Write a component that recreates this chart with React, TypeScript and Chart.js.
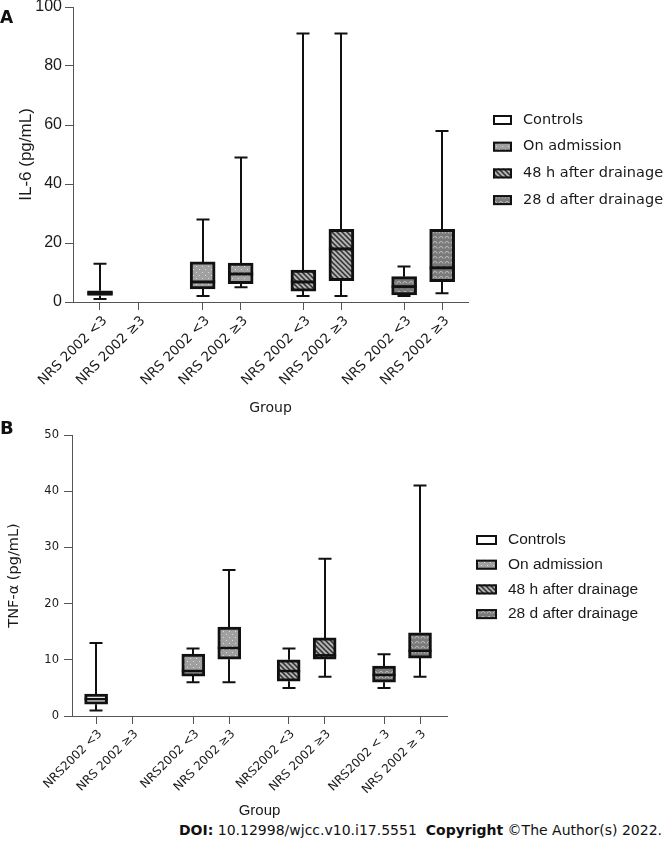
import React, { useEffect, useRef } from 'react';
import { Chart, registerables } from 'chart.js';
Chart.register(...registerables);

// slot positions along the group axis (pairs with gaps)
const slotPositions = [0, 1, 2.7, 3.7, 5.35, 6.35, 8, 9];
const seriesNames = ['Controls', 'On admission', '48 h after drainage', '28 d after drainage'];
const seriesSlots = [[0], [2, 3], [4, 5], [6, 7]];

const il6TickLabels = [
  'NRS 2002 <3', 'NRS 2002 ≥3', 'NRS 2002 <3', 'NRS 2002 ≥3',
  'NRS 2002 <3', 'NRS 2002 ≥3', 'NRS 2002 <3', 'NRS 2002 ≥3',
];
const tnfTickLabels = [
  'NRS2002 <3', 'NRS 2002 ≥3', 'NRS2002 <3', 'NRS 2002 ≥3',
  'NRS2002 <3', 'NRS 2002 ≥3', 'NRS2002 < 3', 'NRS 2002 ≥ 3',
];

// [min, q1, median, q3, max]
const il6Controls = [[1, 2.2, 3, 3.8, 13]];
const il6OnAdmission = [[2, 4.4, 6.8, 13.6, 28], [5, 6.2, 9.5, 13.2, 49]];
const il6After48h = [[2, 3.7, 6.8, 10.8, 91], [2, 7.2, 18, 24.6, 91]];
const il6After28d = [[2, 2.4, 5.2, 8.6, 12], [3, 6.9, 11.6, 24.6, 58]];

const tnfControls = [[1, 2.1, 3, 3.9, 13]];
const tnfOnAdmission = [[6, 7.1, 8, 11, 12], [6, 10.1, 12.1, 15.8, 26]];
const tnfAfter48h = [[5, 6.2, 8, 10, 12], [7, 10.1, 10.8, 13.9, 28]];
const tnfAfter28d = [[5, 6, 7.3, 8.9, 11], [7, 10.3, 11.6, 14.8, 41]];

const il6Series = [il6Controls, il6OnAdmission, il6After48h, il6After28d];
const tnfSeries = [tnfControls, tnfOnAdmission, tnfAfter48h, tnfAfter28d];

const TAHOMA = "'DejaVu Sans', sans-serif";
const ARIAL = "'Liberation Sans', Arial, sans-serif";

function makePatterns(ctx: CanvasRenderingContext2D) {
  const mk = (w: number, h: number, draw: (g: CanvasRenderingContext2D) => void) => {
    const c = document.createElement('canvas');
    c.width = w;
    c.height = h;
    const g = c.getContext('2d') as CanvasRenderingContext2D;
    draw(g);
    return ctx.createPattern(c, 'repeat') as CanvasPattern;
  };
  const dots = mk(6, 6, (g) => {
    g.fillStyle = '#a0a0a0';
    g.fillRect(0, 0, 6, 6);
    g.fillStyle = '#dadada';
    g.fillRect(1, 1, 1, 1);
    g.fillRect(4, 4, 1, 1);
  });
  const hatch = mk(5, 5, (g) => {
    g.fillStyle = '#b2b2b2';
    g.fillRect(0, 0, 5, 5);
    g.strokeStyle = '#2e2e2e';
    g.lineWidth = 1.5;
    g.beginPath();
    g.moveTo(-1, -1); g.lineTo(6, 6);
    g.moveTo(-1, 4); g.lineTo(1, 6);
    g.moveTo(4, -1); g.lineTo(6, 1);
    g.stroke();
  });
  const waves = mk(6, 5, (g) => {
    g.fillStyle = '#7a7a7a';
    g.fillRect(0, 0, 6, 5);
    g.strokeStyle = '#bdbdbd';
    g.lineWidth = 1;
    g.beginPath();
    g.arc(3, 3.5, 2, Math.PI, 0);
    g.stroke();
  });
  return ['#ffffff', dots, hatch, waves];
}

const boxParts = {
  id: 'boxParts',
  beforeDatasetsDraw(chart: any, _a: any, opts: any) {
    const { ctx, scales } = chart;
    ctx.save();
    ctx.strokeStyle = '#111';
    ctx.lineWidth = opts.whiskerWidth;
    chart.data.datasets.forEach((ds: any) => {
      ds.data.forEach((pt: any) => {
        const px = Math.round(scales.x.getPixelForValue(pt.x));
        const s = pt.s;
        const yMin = scales.y.getPixelForValue(s[0]);
        const yQ1 = scales.y.getPixelForValue(s[1]);
        const yQ3 = scales.y.getPixelForValue(s[3]);
        const yMax = scales.y.getPixelForValue(s[4]);
        const cw = opts.capWidth / 2;
        ctx.beginPath();
        ctx.moveTo(px, yQ3); ctx.lineTo(px, yMax);
        ctx.moveTo(px - cw, yMax); ctx.lineTo(px + cw, yMax);
        ctx.moveTo(px, yQ1); ctx.lineTo(px, yMin);
        ctx.moveTo(px - cw, yMin); ctx.lineTo(px + cw, yMin);
        ctx.stroke();
      });
    });
    ctx.restore();
  },
  afterDatasetsDraw(chart: any, _a: any, opts: any) {
    const { ctx, scales } = chart;
    ctx.save();
    ctx.strokeStyle = '#111';
    ctx.lineWidth = opts.medianWidth;
    chart.data.datasets.forEach((ds: any) => {
      ds.data.forEach((pt: any) => {
        const px = scales.x.getPixelForValue(pt.x);
        const ym = scales.y.getPixelForValue(pt.s[2]);
        const hw = opts.boxWidth / 2;
        ctx.beginPath();
        ctx.moveTo(px - hw, ym); ctx.lineTo(px + hw, ym);
        ctx.stroke();
      });
    });
    ctx.restore();
  },
  afterDraw(chart: any, _a: any, opts: any) {
    const L = opts.legend;
    const { ctx } = chart;
    ctx.save();
    chart.data.datasets.forEach((ds: any, i: number) => {
      const cy = L.y + i * L.dy;
      ctx.fillStyle = ds.backgroundColor;
      ctx.fillRect(L.x, cy - L.h / 2, L.w, L.h);
      ctx.strokeStyle = '#111';
      ctx.lineWidth = 2;
      ctx.strokeRect(L.x + 1, cy - L.h / 2 + 1, L.w - 2, L.h - 2);
      ctx.fillStyle = '#1a1a1a';
      ctx.font = L.font;
      ctx.textBaseline = 'middle';
      ctx.textAlign = 'left';
      ctx.fillText(ds.label, L.textX, cy);
    });
    ctx.restore();
  },
};

function buildConfig(ctx: CanvasRenderingContext2D, p: any) {
  const fills = makePatterns(ctx);
  const datasets = p.series.map((stats: number[][], si: number) => ({
    label: seriesNames[si],
    data: stats.map((s, k) => ({ x: slotPositions[seriesSlots[si][k]], y: [s[1], s[3]], s })),
    backgroundColor: fills[si],
    borderColor: '#111',
    borderWidth: 3,
    borderSkipped: false,
    barThickness: p.boxWidth,
    grouped: false,
  }));
  return {
    type: 'bar',
    data: { datasets },
    plugins: [boxParts],
    options: {
      responsive: false,
      animation: false,
      layout: { padding: p.padding },
      plugins: {
        legend: { display: false },
        tooltip: { enabled: false },
        boxParts: {
          whiskerWidth: 2,
          capWidth: p.capWidth,
          medianWidth: p.medianWidth,
          boxWidth: p.boxWidth,
          legend: p.legend,
        },
      },
      scales: {
        x: {
          type: 'linear',
          min: p.xMin,
          max: p.xMax,
          offset: false,
          afterBuildTicks: (s: any) => {
            s.ticks = slotPositions.map((v) => ({ value: v }));
          },
          afterFit: (s: any) => {
            s.height = p.xHeight;
          },
          ticks: {
            autoSkip: false,
            minRotation: 45,
            maxRotation: 45,
            padding: p.xTickPad,
            labelOffset: p.xLabelOffset,
            color: '#1a1a1a',
            font: p.xTickFont,
            callback: (_v: any, i: number) => p.tickLabels[i],
          },
          grid: { display: true, drawOnChartArea: false, offset: false, tickLength: 8, color: '#555', lineWidth: 1 },
          border: { display: true, color: '#555', width: 1 },
          title: { display: true, text: 'Group', color: '#1a1a1a', font: p.xTitleFont, padding: { top: 0, bottom: p.xTitlePad } },
        },
        y: {
          min: 0,
          max: p.yMax,
          afterFit: (s: any) => {
            s.width = p.yWidth;
          },
          ticks: { stepSize: p.yStep, padding: p.yTickPad, color: '#1a1a1a', font: p.yTickFont },
          grid: { display: true, drawOnChartArea: false, tickLength: 8, color: '#555', lineWidth: 1 },
          border: { display: true, color: '#555', width: 1 },
          title: { display: true, text: p.yTitle, color: '#1a1a1a', font: p.yTitleFont, padding: { top: p.yTitlePad, bottom: 0 } },
        },
      },
    },
  };
}

function BoxChart(props: { top: number; height: number; params: any }) {
  const ref = useRef<HTMLCanvasElement>(null);
  useEffect(() => {
    const canvas = ref.current as HTMLCanvasElement;
    const ctx = canvas.getContext('2d') as CanvasRenderingContext2D;
    const chart = new Chart(ctx, buildConfig(ctx, props.params) as any);
    return () => chart.destroy();
  }, []);
  return (
    <canvas
      ref={ref}
      width={668}
      height={props.height}
      style={{ position: 'absolute', left: 0, top: props.top, width: 668, height: props.height }}
    />
  );
}

const il6Params = {
  series: il6Series,
  tickLabels: il6TickLabels,
  padding: { left: 0, right: 200, top: 27, bottom: 0 },
  xMin: -0.71,
  xMax: 9.68,
  xHeight: 118,
  yWidth: 73,
  yMax: 100,
  yStep: 20,
  boxWidth: 25,
  capWidth: 13,
  medianWidth: 3,
  xTickPad: 3,
  xLabelOffset: 5,
  yTickPad: 3,
  xTickFont: { family: TAHOMA, size: 13.5 },
  yTickFont: { family: ARIAL, size: 16 },
  xTitleFont: { family: TAHOMA, size: 14 },
  xTitlePad: 3,
  yTitle: 'IL-6 (pg/mL)',
  yTitleFont: { family: ARIAL, size: 17 },
  yTitlePad: 16,
  legend: { x: 493, y: 140, dy: 26.7, w: 19, h: 10, textX: 523, font: `14.5px ${TAHOMA}` },
};

const tnfParams = {
  series: tnfSeries,
  tickLabels: tnfTickLabels,
  padding: { left: 0, right: 221, top: 15, bottom: 0 },
  xMin: -0.67,
  xMax: 9.75,
  xHeight: 104,
  yWidth: 72,
  yMax: 50,
  yStep: 10,
  boxWidth: 23,
  capWidth: 13,
  medianWidth: 2.5,
  xTickPad: 3,
  xLabelOffset: 4,
  yTickPad: 5,
  xTickFont: { family: TAHOMA, size: 12 },
  yTickFont: { family: TAHOMA, size: 11.5 },
  xTitleFont: { family: ARIAL, size: 15 },
  xTitlePad: 0,
  yTitle: 'TNF-α (pg/mL)',
  yTitleFont: { family: TAHOMA, size: 14.5 },
  yTitlePad: 6,
  legend: { x: 476, y: 120, dy: 24.7, w: 21, h: 10, textX: 508, font: `15.5px ${ARIAL}` },
};

export default function App() {
  return (
    <div style={{ position: 'absolute', left: 0, top: 0, width: 668, height: 841, overflow: 'hidden', background: '#fff' }}>
      <BoxChart top={-20} height={440} params={il6Params} />
      <BoxChart top={420} height={400} params={tnfParams} />
      <div style={{ position: 'absolute', left: 0, top: 7, font: `bold 17px ${TAHOMA}`, color: '#111' }}>A</div>
      <div style={{ position: 'absolute', left: 0, top: 417, font: `bold 18px ${TAHOMA}`, color: '#111' }}>B</div>
      <div style={{ position: 'absolute', right: 6, top: 822, font: `14px ${TAHOMA}`, color: '#111', whiteSpace: 'nowrap' }}>
        <b>DOI:</b> 10.12998/wjcc.v10.i17.5551&nbsp;&nbsp;<b>Copyright</b> ©The Author(s) 2022.
      </div>
    </div>
  );
}
